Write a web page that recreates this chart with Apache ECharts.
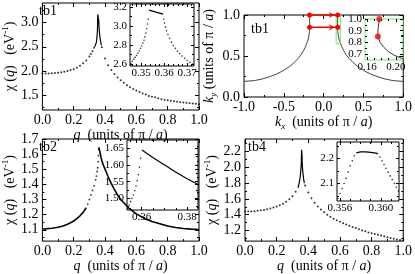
<!DOCTYPE html>
<html><head><meta charset="utf-8">
<script src="https://cdn.jsdelivr.net/npm/echarts@6/dist/echarts.min.js"></script>
<style>html,body{margin:0;padding:0;background:#fff}#c{width:415px;height:274px}</style>
</head><body><div id="c"></div><script>
// ---------- DATA ----------
// tb1 main (chi in eV^-1 vs q in units of pi/a)
const tb1LeftQ   = [0,0.02,0.04,0.06,0.08,0.10,0.12,0.14,0.16,0.18,0.20,0.22,0.24,0.26,0.28,0.30,0.31,0.32,0.33];
const tb1LeftChi = [1.95,1.95,1.95,1.955,1.96,1.965,1.975,1.985,2.00,2.02,2.04,2.07,2.11,2.16,2.22,2.30,2.35,2.41,2.48];
const tb1SpikeQ   = [0.335,0.34,0.3455,0.349,0.3515,0.3531,0.3535,0.3565,0.3596,0.3602,0.3617,0.3640,0.3668,0.3700,0.3724,0.377];
const tb1SpikeChi = [2.50,2.55,2.60,2.72,2.84,3.07,3.165,3.145,3.125,3.03,2.91,2.795,2.71,2.64,2.60,2.53];
const tb1RightQ   = [0.38,0.40,0.42,0.44,0.46,0.48,0.50,0.52,0.54,0.56,0.58,0.60,0.62,0.64,0.66,0.68,0.70,0.72,0.74,0.76,0.78,0.80,0.82,0.84,0.86,0.88,0.90,0.92,0.94,0.96,0.98,1.00];
const tb1RightChi = [2.49,2.26,2.12,2.02,1.94,1.87,1.81,1.76,1.71,1.67,1.63,1.60,1.57,1.54,1.52,1.49,1.47,1.46,1.44,1.42,1.41,1.40,1.39,1.38,1.37,1.36,1.355,1.35,1.34,1.335,1.33,1.32];
// tb1 inset
const tb1InRiseQ   = [0.3456,0.3462,0.3468,0.3474,0.3480,0.3486,0.3492,0.3498,0.3503,0.3508,0.3513,0.3517,0.3521,0.3525,0.3528,0.3531];
const tb1InRiseChi = [2.61,2.63,2.65,2.67,2.69,2.715,2.74,2.765,2.79,2.82,2.85,2.885,2.925,2.97,3.02,3.07];
const tb1InTopQ    = [0.3535,0.3565,0.3596];
const tb1InTopChi  = [3.165,3.145,3.125];
const tb1InFallQ   = [0.3599,0.3602,0.3606,0.3611,0.3617,0.3624,0.3632,0.3640,0.3649,0.3658,0.3668,0.3678,0.3689,0.3700,0.3712,0.3724];
const tb1InFallChi = [3.07,3.03,2.99,2.95,2.91,2.87,2.83,2.795,2.765,2.735,2.71,2.685,2.66,2.64,2.62,2.60];
// Fermi surface (tb1), kx/ky in units of pi/a
const fsRightKx = [0.177,0.176,0.175,0.175,0.178,0.183,0.19,0.198,0.208,0.225,0.25,0.28,0.32,0.37,0.43,0.51,0.59,0.67,0.77,0.87,1.0];
const fsLeftKx  = [-0.177,-0.176,-0.175,-0.175,-0.178,-0.183,-0.19,-0.198,-0.208,-0.225,-0.25,-0.28,-0.32,-0.37,-0.43,-0.51,-0.59,-0.67,-0.77,-0.87,-1.0];
const fsKy      = [1.00,0.95,0.90,0.85,0.80,0.76,0.72,0.69,0.665,0.62,0.57,0.52,0.47,0.42,0.37,0.32,0.28,0.25,0.22,0.20,0.19];
const nestFromKx = -0.177, nestToKx = 0.177, nestArrowKx = 0.14;
const nestKy = [1.00, 0.85];
const zoomBoxKx = [0.157, 0.21], zoomBoxKy = [0.65, 1.0];
// tb2
const tb2LeftQ   = [0,0.02,0.04,0.06,0.08,0.10,0.12,0.14,0.16,0.18,0.20,0.22,0.24,0.26,0.28];
const tb2LeftChi = [1.105,1.106,1.108,1.11,1.113,1.117,1.122,1.128,1.136,1.146,1.158,1.173,1.192,1.215,1.245];
const tb2DotQ    = [0.29,0.30,0.31,0.32,0.33,0.34,0.345,0.35,0.353,0.356,0.358,0.3595];
const tb2DotChi  = [1.27,1.30,1.33,1.36,1.39,1.43,1.455,1.485,1.51,1.55,1.59,1.63];
const tb2RightQ  = [0.36,0.365,0.37,0.375,0.38,0.385,0.39,0.40,0.42,0.44,0.46,0.48,0.50,0.55,0.60,0.65,0.70,0.75,0.80,0.85,0.90,0.95,1.00];
const tb2RightChi= [1.645,1.625,1.60,1.575,1.555,1.54,1.525,1.50,1.45,1.405,1.365,1.33,1.30,1.245,1.205,1.175,1.155,1.14,1.125,1.115,1.108,1.104,1.102];
const tb2InDotQ   = [0.3538,0.3545,0.3551,0.3557,0.3563,0.3569,0.3575,0.3580,0.3585,0.3590,0.3595];
const tb2InDotChi = [1.47,1.48,1.49,1.50,1.51,1.523,1.537,1.553,1.571,1.593,1.62];
const tb2InLineQ   = [0.3601,0.362,0.365,0.368,0.371,0.374,0.377,0.380,0.383,0.3845];
const tb2InLineChi = [1.645,1.636,1.622,1.609,1.596,1.583,1.571,1.559,1.548,1.543];
// tb4
const tb4LeftQ   = [0,0.02,0.04,0.06,0.08,0.10,0.12,0.14,0.16,0.18,0.20,0.22,0.24,0.26,0.28,0.30,0.32];
const tb4LeftChi = [1.44,1.44,1.44,1.445,1.45,1.455,1.46,1.47,1.48,1.49,1.505,1.52,1.54,1.565,1.595,1.635,1.69];
const tb4SpikeQ   = [0.335,0.34,0.345,0.35,0.353,0.3557,0.3566,0.3575,0.3586,0.3597,0.3603,0.3612,0.363,0.366,0.37,0.375];
const tb4SpikeChi = [1.74,1.78,1.83,1.90,1.97,2.05,2.14,2.222,2.226,2.218,2.165,2.08,2.00,1.93,1.86,1.80];
const tb4RightQ   = [0.38,0.40,0.42,0.44,0.46,0.48,0.50,0.52,0.54,0.56,0.58,0.60,0.62,0.64,0.66,0.68,0.70,0.72,0.74,0.76,0.78,0.80,0.82,0.84,0.86,0.88,0.90,0.92,0.94,0.96,0.98,1.00];
const tb4RightChi = [1.77,1.68,1.61,1.55,1.505,1.465,1.43,1.40,1.375,1.35,1.33,1.31,1.29,1.275,1.26,1.245,1.23,1.215,1.20,1.19,1.175,1.165,1.155,1.145,1.135,1.125,1.115,1.105,1.095,1.085,1.08,1.075];
const tb4InRiseQ   = [0.3558,0.3560,0.3562,0.3564,0.3566,0.3568,0.3570,0.3572,0.3574];
const tb4InRiseChi = [2.04,2.06,2.08,2.10,2.12,2.145,2.17,2.19,2.21];
const tb4InTopQ    = [0.3576,0.3580,0.3585,0.3590,0.3595,0.3597];
const tb4InTopChi  = [2.222,2.226,2.226,2.224,2.221,2.218];
const tb4InFallQ   = [0.3599,0.3601,0.3603,0.3605,0.3607,0.3609,0.3611,0.3613,0.3615,0.3617];
const tb4InFallChi = [2.205,2.19,2.175,2.16,2.145,2.13,2.115,2.10,2.085,2.07];
// tick values
const qMajor = [0,0.2,0.4,0.6,0.8,1.0], qMinor = [0.1,0.3,0.5,0.7,0.9];
const tb1YMajor = [1.5,2.0,2.5,3.0], tb1YMinor = [1.25,1.75,2.25,2.75,3.25];
const tb1InXMajor = [0.35,0.36,0.37], tb1InXMinor = [0.346,0.348,0.352,0.354,0.356,0.358,0.362,0.364,0.366,0.368,0.372];
const tb1InYMajor = [2.6,2.8,3.0,3.2], tb1InYMinor = [2.7,2.9,3.1];
const kxMajor = [-1,-0.5,0,0.5,1], kxMinor = [-0.75,-0.25,0.25,0.75];
const kyMajor = [0,0.5,1], kyMinor = [0.25,0.75];
const fsInXMajor = [0.16,0.20], fsInXMinor = [0.17,0.18,0.19];
const fsInYMajor = [0.7,0.8,0.9,1.0], fsInYMinor = [0.75,0.85,0.95];
const tb2YMajor = [1.1,1.2,1.3,1.4,1.5,1.6,1.7], tb2YMinor = [1.05,1.15,1.25,1.35,1.45,1.55,1.65];
const tb2InXMajor = [0.36,0.38], tb2InXMinor = [0.355,0.365,0.37,0.375];
const tb2InYMajor = [1.50,1.55,1.60,1.65], tb2InYMinor = [1.475,1.525,1.575,1.625];
const tb4YMajor = [1.2,1.4,1.6,1.8,2.0,2.2], tb4YMinor = [1.1,1.3,1.5,1.7,1.9,2.1,2.3];
const tb4InXMajor = [0.356,0.360], tb4InXMinor = [0.357,0.358,0.359,0.361];
const tb4InYMajor = [2.1,2.2], tb4InYMinor = [2.05,2.15,2.25];

// ---------- BUILD ----------
const FONT = 'Liberation Serif';
const grids = [], xAxes = [], yAxes = [], series = [];
const zip = (a, b) => a.map((v, i) => [v, b[i]]);
function addGrid(g, border) {
  grids.push(Object.assign({show: true, borderColor: border || '#000', borderWidth: 1, backgroundColor: '#fff'}, g));
  return grids.length - 1;
}
function addAxes(list, gi, isX, min, max, majors, minors, dec, fs, margin, extra, majLen, minLen) {
  const posA = isX ? 'bottom' : 'left', posB = isX ? 'top' : 'right';
  majLen = majLen || 4; minLen = minLen || 2;
  const base = {type: 'value', gridIndex: gi, min: min, max: max, axisLine: {show: false, onZero: false}, splitLine: {show: false}, silent: true};
  const mk = (pos, vals, len, lab) => Object.assign({}, base, {
    position: pos,
    axisTick: {show: true, inside: true, length: len, customValues: vals, lineStyle: {color: '#000', width: 1}},
    axisLabel: lab ? {show: true, customValues: vals, fontFamily: FONT, fontSize: fs, color: '#000', margin: margin,
      formatter: v => Number(v).toFixed(dec)} : {show: false}
  });
  const idx = list.length;
  const p = mk(posA, majors, majLen, true);
  if (extra) Object.assign(p, extra);
  list.push(p, mk(posA, minors, minLen, false), mk(posB, majors, majLen, false), mk(posB, minors, minLen, false));
  return idx;
}
const richBase = {
  n: {fontFamily: FONT, fontSize: 14, color: '#000', lineHeight: 18},
  i: {fontFamily: FONT, fontSize: 14, fontStyle: 'italic', color: '#000', lineHeight: 18},
  sup: {fontFamily: FONT, fontSize: 9, color: '#000', lineHeight: 10, verticalAlign: 'top'},
  sub: {fontFamily: FONT, fontSize: 9, fontStyle: 'italic', color: '#000', lineHeight: 10, verticalAlign: 'bottom'}
};
const qName = '{i|q}{n|  (units of π / }{i|a}{n|)}';
const chiName = '{n|χ (}{i|q}{n|)   (eV}{sup|-1}{n|)}';
const xNameOpt = gap => ({name: qName, nameLocation: 'middle', nameGap: gap, nameTextStyle: {rich: richBase}});
const yNameOpt = (name, gap) => ({name: name, nameLocation: 'middle', nameGap: gap, nameTextStyle: {rich: richBase}});

function dots(xi, yi, xs, ys, size) {
  series.push({type: 'scatter', xAxisIndex: xi, yAxisIndex: yi, data: zip(xs, ys), symbol: 'circle', symbolSize: size || 2,
    itemStyle: {color: '#000'}, silent: true, clip: true, animation: false});
}
function line(xi, yi, data, color, width, extra) {
  series.push(Object.assign({type: 'line', xAxisIndex: xi, yAxisIndex: yi, data: data, symbol: 'none', showSymbol: false,
    lineStyle: {color: color || '#000', width: width || 1}, silent: true, clip: true, animation: false}, extra || {}));
}

// Panel tb1
let g = addGrid({left: 36, top: 3, width: 163, height: 107});
let xi = addAxes(xAxes, g, true, 0, 1, qMajor, qMinor, 1, 14, 3, xNameOpt(15));
let yi = addAxes(yAxes, g, false, 1.2, 3.4, tb1YMajor, tb1YMinor, 1, 14, 4, yNameOpt(chiName, 21));
dots(xi, yi, tb1LeftQ, tb1LeftChi);
line(xi, yi, zip(tb1SpikeQ, tb1SpikeChi), '#000', 1.2);
dots(xi, yi, tb1RightQ, tb1RightChi);
g = addGrid({left: 130, top: 4, width: 64, height: 62});
xi = addAxes(xAxes, g, true, 0.3452, 0.3730, tb1InXMajor, tb1InXMinor, 2, 11, 2, null, 3, 2);
yi = addAxes(yAxes, g, false, 2.58, 3.23, tb1InYMajor, tb1InYMinor, 1, 11, 3, null, 3, 2);
dots(xi, yi, tb1InRiseQ, tb1InRiseChi, 1.6);
line(xi, yi, zip(tb1InTopQ, tb1InTopChi), '#000', 1.3);
dots(xi, yi, tb1InFallQ, tb1InFallChi, 1.6);

// Panel Fermi surface
g = addGrid({left: 244, top: 15, width: 161, height: 82});
xi = addAxes(xAxes, g, true, -1, 1, kxMajor, kxMinor, 1, 14, 3,
  {name: '{i|k}{sub|x}{n|  (units of π / }{i|a}{n|)}', nameLocation: 'middle', nameGap: 15, nameTextStyle: {rich: richBase}});
yi = addAxes(yAxes, g, false, 0, 1, kyMajor, kyMinor, 1, 14, 4,
  {name: '{i|k}{sub|y}{n| (units of π / }{i|a}{n|)}', nameLocation: 'middle', nameGap: 21, nameTextStyle: {rich: richBase}});
line(xi, yi, zip(fsLeftKx, fsKy), '#444', 1);
line(xi, yi, zip(fsRightKx, fsKy), '#444', 1);
line(xi, yi, [[zoomBoxKx[0], zoomBoxKy[0]], [zoomBoxKx[1], zoomBoxKy[0]], [zoomBoxKx[1], zoomBoxKy[1]], [zoomBoxKx[0], zoomBoxKy[1]], [zoomBoxKx[0], zoomBoxKy[0]]], '#66ee66', 1, {clip: false, z: 3});
nestKy.forEach(ky => {
  line(xi, yi, [[nestFromKx, ky], [nestToKx, ky]], '#ff0000', 1.5, {clip: false, z: 4,
    symbol: 'circle', showSymbol: true, symbolSize: 5, itemStyle: {color: '#ff0000'}});
});
series.push({type: 'scatter', xAxisIndex: xi, yAxisIndex: yi, data: nestKy.map(ky => [nestArrowKx, ky]), symbol: 'arrow',
  symbolSize: [5, 6], symbolRotate: -90, itemStyle: {color: '#ff0000'}, silent: true, z: 5, clip: false});
g = addGrid({left: 365, top: 19, width: 38, height: 41}, '#66ee66');
xi = addAxes(xAxes, g, true, 0.157, 0.21, fsInXMajor, fsInXMinor, 2, 11, 2, null, 3, 2);
yi = addAxes(yAxes, g, false, 0.65, 1.0, fsInYMajor, fsInYMinor, 1, 11, 3, null, 3, 2);
line(xi, yi, zip(fsRightKx, fsKy), '#333', 1);
series.push({type: 'scatter', xAxisIndex: xi, yAxisIndex: yi, data: nestKy.map((ky, i) => [fsRightKx[i * 3], ky]),
  symbol: 'circle', symbolSize: 6, itemStyle: {color: '#ff0000'}, silent: true, z: 5, clip: false});

// Panel tb2
g = addGrid({left: 35, top: 139, width: 164, height: 109});
xi = addAxes(xAxes, g, true, 0, 1, qMajor, qMinor, 1, 14, 3, xNameOpt(15));
yi = addAxes(yAxes, g, false, 1.025, 1.7, tb2YMajor, tb2YMinor, 1, 14, 4, yNameOpt(chiName, 21));
line(xi, yi, zip(tb2LeftQ, tb2LeftChi), '#000', 1.6);
dots(xi, yi, tb2DotQ, tb2DotChi, 1.8);
line(xi, yi, zip(tb2RightQ, tb2RightChi), '#000', 1.6);
g = addGrid({left: 127, top: 140, width: 71, height: 70});
xi = addAxes(xAxes, g, true, 0.3535, 0.3848, tb2InXMajor, tb2InXMinor, 2, 11, 2, null, 3, 2);
yi = addAxes(yAxes, g, false, 1.465, 1.675, tb2InYMajor, tb2InYMinor, 2, 11, 3, null, 3, 2);
dots(xi, yi, tb2InDotQ, tb2InDotChi, 1.6);
line(xi, yi, zip(tb2InLineQ, tb2InLineChi), '#000', 1.2);

// Panel tb4
g = addGrid({left: 245, top: 139, width: 160, height: 108});
xi = addAxes(xAxes, g, true, 0, 1, qMajor, qMinor, 1, 14, 3, xNameOpt(15));
yi = addAxes(yAxes, g, false, 1.065, 2.36, tb4YMajor, tb4YMinor, 1, 14, 4, yNameOpt(chiName, 21));
dots(xi, yi, tb4LeftQ, tb4LeftChi);
line(xi, yi, zip(tb4SpikeQ, tb4SpikeChi), '#000', 1.2);
dots(xi, yi, tb4RightQ, tb4RightChi);
g = addGrid({left: 337, top: 142, width: 62, height: 59});
xi = addAxes(xAxes, g, true, 0.35571, 0.36176, tb4InXMajor, tb4InXMinor, 3, 11, 2, null, 3, 2);
yi = addAxes(yAxes, g, false, 2.03, 2.265, tb4InYMajor, tb4InYMinor, 1, 11, 3, null, 3, 2);
dots(xi, yi, tb4InRiseQ, tb4InRiseChi, 1.6);
line(xi, yi, zip(tb4InTopQ, tb4InTopChi), '#000', 1.3);
dots(xi, yi, tb4InFallQ, tb4InFallChi, 1.6);

const lab = (x, y, t) => ({type: 'text', left: x, top: y, style: {text: t, font: '14px "Liberation Serif"', fill: '#000'}, silent: true});

const chart = echarts.init(document.getElementById('c'), null, {renderer: 'canvas'});
chart.setOption({
  animation: false,
  backgroundColor: '#fff',
  grid: grids, xAxis: xAxes, yAxis: yAxes, series: series,
  graphic: [lab(39, 4, 'tb1'), lab(251, 22, 'tb1'), lab(39, 140, 'tb2'), lab(248, 140, 'tb4')]
});
</script></body></html>
